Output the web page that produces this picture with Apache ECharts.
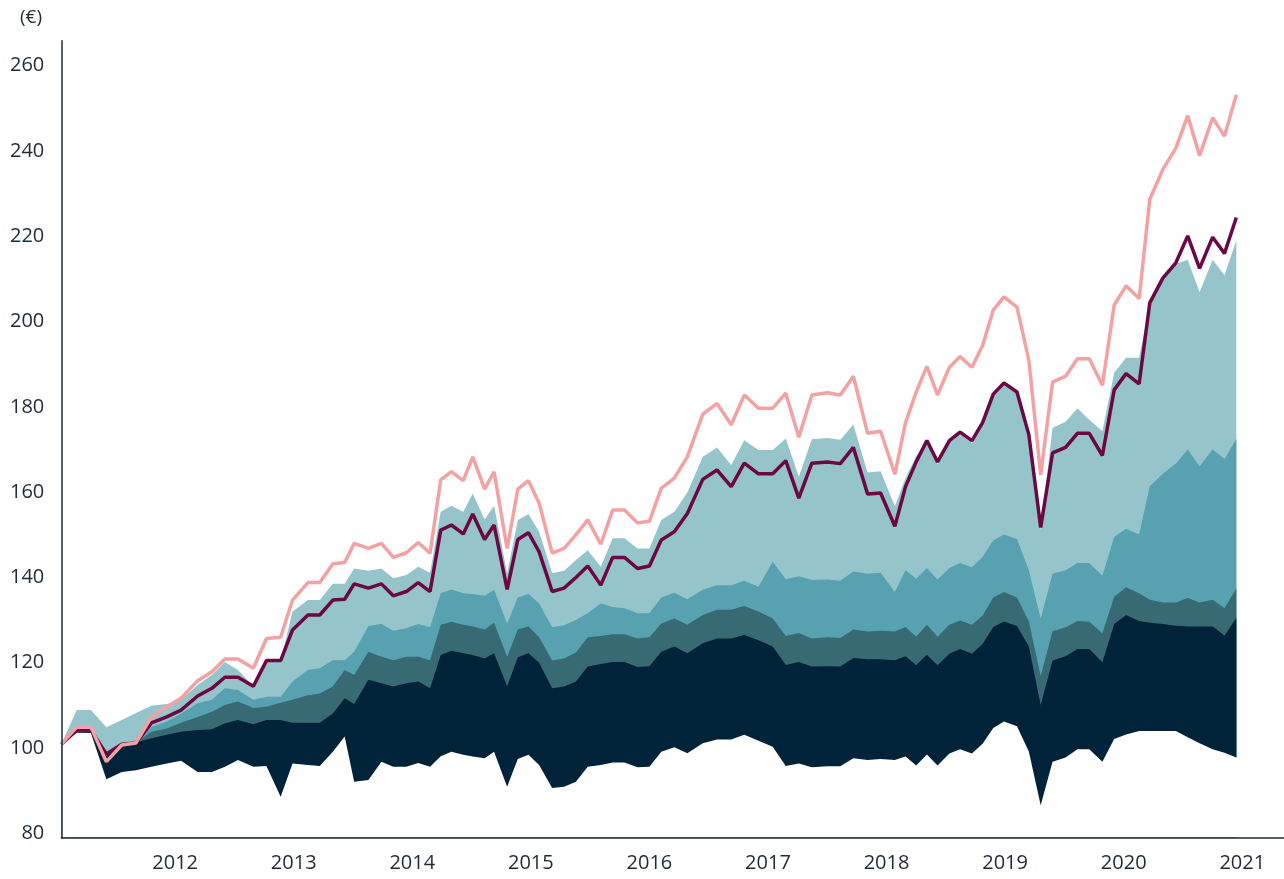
<!DOCTYPE html>
<html>
<head>
<meta charset="utf-8">
<script src="https://cdn.jsdelivr.net/npm/echarts@6/dist/echarts.min.js"></script>
<style>
  html, body { margin: 0; padding: 0; background: #fff; }
  #chart { width: 1284px; height: 879px; }
</style>
</head>
<body>
<div id="chart"></div>
<script>
// dates as decimal years
const dates = [
  2011.04, 2011.17, 2011.29, 2011.42, 2011.55, 2011.67, 2011.80, 2011.93, 2012.05, 2012.19,
  2012.31, 2012.42, 2012.53, 2012.66, 2012.77, 2012.89, 2012.99, 2013.12, 2013.22, 2013.33,
  2013.43, 2013.51, 2013.63, 2013.74, 2013.84, 2013.95, 2014.05, 2014.15, 2014.24, 2014.33,
  2014.43, 2014.51, 2014.61, 2014.69, 2014.80, 2014.89, 2014.98, 2015.07, 2015.18, 2015.28,
  2015.38, 2015.48, 2015.59, 2015.69, 2015.79, 2015.90, 2016.00, 2016.10, 2016.21, 2016.32,
  2016.45, 2016.57, 2016.69, 2016.80, 2016.92, 2017.04, 2017.15, 2017.26, 2017.37, 2017.50,
  2017.61, 2017.72, 2017.84, 2017.95, 2018.07, 2018.16, 2018.25, 2018.34, 2018.43, 2018.53,
  2018.62, 2018.72, 2018.81, 2018.90, 2018.99, 2019.10, 2019.20, 2019.30, 2019.40, 2019.51,
  2019.61, 2019.71, 2019.82, 2019.92, 2020.02, 2020.13, 2020.22, 2020.33, 2020.44, 2020.54,
  2020.64, 2020.75, 2020.85, 2020.95
];

// pink line
const upperLine = [
  100.9, 104.9, 104.9, 96.8, 100.7, 101.2, 107.3, 109.7, 111.7, 115.8,
  117.9, 120.9, 120.9, 118.7, 125.7, 126.0, 134.7, 138.8, 138.8, 143.2,
  143.5, 148.0, 146.8, 148.0, 144.7, 145.8, 148.2, 145.7, 162.9, 164.8,
  162.7, 168.3, 160.7, 164.8, 146.8, 160.7, 162.7, 157.4, 145.7, 146.8,
  150.0, 153.5, 147.8, 155.8, 155.8, 152.8, 153.2, 160.9, 163.3, 168.3,
  178.3, 180.8, 175.8, 182.8, 179.7, 179.7, 183.2, 172.9, 182.8, 183.3,
  182.8, 187.2, 173.8, 174.3, 164.2, 176.3, 183.5, 189.5, 182.8, 189.3,
  191.8, 189.3, 194.4, 202.7, 205.8, 203.4, 190.9, 164.1, 185.8, 187.2,
  191.3, 191.3, 185.1, 203.9, 208.4, 205.4, 228.7, 235.7, 240.7, 248.3,
  238.9, 247.8, 243.5, 253.2
];

// dark purple line
const midLine = [
  100.9, 104.2, 104.2, 98.6, 100.9, 101.2, 105.9, 107.3, 108.9, 112.2,
  114.0, 116.6, 116.6, 114.5, 120.5, 120.5, 127.7, 131.2, 131.2, 134.7,
  134.9, 138.5, 137.5, 138.5, 135.7, 136.7, 138.8, 136.7, 151.1, 152.3,
  150.2, 154.9, 148.9, 152.3, 137.2, 148.9, 150.5, 146.0, 136.7, 137.5,
  140.0, 142.7, 138.2, 144.7, 144.7, 142.1, 142.7, 148.8, 150.7, 155.0,
  163.0, 165.2, 161.3, 166.8, 164.3, 164.3, 167.4, 158.6, 166.8, 167.1,
  166.7, 170.5, 159.6, 159.8, 152.0, 161.3, 167.1, 172.1, 167.1, 172.1,
  174.1, 172.1, 176.3, 183.0, 185.6, 183.5, 173.5, 151.7, 169.2, 170.5,
  173.8, 173.8, 168.6, 184.0, 187.8, 185.4, 204.4, 210.2, 213.8, 220.1,
  212.5, 219.8, 216.0, 224.4
];

// band tops, from highest to lowest
const lightTealTop = [
  100.9, 108.9, 108.9, 104.9, 106.6, 108.2, 109.9, 110.3, 111.3, 114.8,
  117.1, 120.2, 118.3, 114.5, 120.4, 120.4, 132.0, 134.7, 134.7, 138.5,
  138.5, 142.1, 141.6, 142.1, 139.8, 140.6, 142.5, 141.1, 155.4, 156.8,
  155.4, 159.7, 153.6, 156.8, 141.0, 153.5, 154.9, 150.7, 141.0, 141.6,
  144.1, 146.4, 142.5, 149.2, 149.2, 146.8, 146.8, 153.5, 155.4, 159.9,
  168.3, 170.5, 166.4, 172.2, 169.9, 169.9, 172.6, 163.6, 172.4, 172.7,
  172.3, 175.9, 164.6, 164.9, 156.7, 163.3, 168.5, 171.6, 166.6, 171.6,
  173.6, 171.6, 175.8, 182.5, 185.1, 183.0, 173.0, 151.2, 175.1, 176.5,
  179.7, 177.0, 174.3, 188.0, 191.5, 191.5, 204.0, 210.0, 213.5, 214.5,
  206.9, 214.5, 210.9, 219.0
];

const tealTop = [
  100.9, 104.0, 104.0, 98.4, 100.9, 101.4, 105.0, 106.2, 108.1, 110.5,
  111.3, 114.0, 113.6, 111.3, 112.0, 112.0, 115.6, 118.3, 118.7, 120.6,
  120.6, 122.6, 128.6, 129.1, 127.5, 128.1, 129.1, 128.3, 136.3, 137.2,
  136.3, 136.1, 135.7, 137.1, 129.2, 135.3, 136.1, 133.9, 128.3, 128.8,
  130.0, 131.6, 133.9, 133.1, 132.8, 131.6, 131.6, 135.3, 136.4, 134.9,
  137.1, 138.2, 138.2, 139.2, 137.8, 143.7, 139.6, 140.3, 139.4, 139.5,
  139.2, 141.4, 140.9, 141.1, 136.6, 141.7, 139.7, 142.2, 139.5, 142.2,
  143.4, 142.4, 144.8, 148.7, 150.1, 149.0, 141.7, 130.4, 140.9, 141.7,
  143.4, 143.4, 140.4, 149.5, 151.4, 150.1, 161.4, 164.3, 166.7, 170.0,
  166.0, 170.0, 167.8, 172.5
];

const darkTealTop = [
  100.9, 103.9, 103.9, 98.2, 100.8, 101.3, 103.8, 104.6, 105.9, 107.3,
  108.5, 110.1, 110.9, 109.4, 109.7, 110.6, 111.3, 112.4, 112.8, 114.4,
  118.3, 117.1, 122.6, 121.4, 120.6, 121.4, 121.4, 120.6, 128.9, 129.6,
  128.9, 128.5, 127.8, 129.4, 121.4, 127.8, 128.5, 126.0, 120.5, 121.0,
  122.4, 126.0, 126.3, 126.7, 126.7, 125.7, 126.0, 129.2, 130.4, 128.9,
  131.2, 132.4, 132.4, 133.3, 132.0, 130.4, 126.3, 127.0, 125.7, 126.0,
  125.8, 127.8, 127.3, 127.5, 127.3, 128.4, 126.1, 128.9, 126.1, 128.9,
  129.9, 128.9, 131.1, 135.3, 136.6, 135.3, 129.7, 116.9, 127.4, 128.3,
  129.8, 129.6, 126.9, 135.5, 137.7, 136.3, 134.8, 134.1, 134.1, 135.2,
  134.1, 134.8, 132.8, 137.4
];

const navyTop = [
  100.9, 103.8, 103.8, 98.1, 100.7, 101.3, 102.3, 103.1, 103.8, 104.2,
  104.4, 105.8, 106.6, 105.6, 106.6, 106.6, 105.9, 105.9, 105.9, 108.1,
  111.7, 110.3, 116.0, 115.2, 114.4, 115.2, 115.6, 114.0, 121.8, 122.8,
  122.2, 121.8, 121.0, 122.2, 114.5, 121.3, 122.2, 120.0, 114.0, 114.4,
  115.6, 119.1, 119.7, 120.2, 120.2, 119.0, 119.2, 122.6, 123.8, 122.2,
  124.6, 125.7, 125.7, 126.5, 125.3, 123.8, 119.5, 120.2, 119.1, 119.2,
  119.1, 121.1, 120.8, 120.8, 120.6, 121.5, 119.4, 121.9, 119.4, 122.1,
  123.2, 122.1, 124.4, 128.4, 129.7, 128.6, 123.8, 110.1, 120.5, 121.5,
  123.2, 123.2, 120.1, 129.1, 131.2, 129.8, 129.4, 129.1, 128.7, 128.5,
  128.5, 128.5, 126.4, 130.5
];

const lowerBound = [
  100.9, 103.6, 103.5, 92.7, 94.4, 94.8, 95.6, 96.4, 97.0, 94.4,
  94.4, 95.6, 97.2, 95.6, 95.8, 88.6, 96.4, 96.0, 95.8, 99.1,
  102.7, 92.1, 92.5, 96.8, 95.6, 95.6, 96.5, 95.6, 98.1, 99.1,
  98.4, 98.0, 97.6, 99.1, 90.9, 97.4, 98.4, 96.0, 90.6, 90.9,
  92.1, 95.6, 96.0, 96.6, 96.6, 95.5, 95.6, 99.1, 100.2, 98.8,
  101.1, 102.0, 102.0, 103.1, 101.7, 100.3, 95.8, 96.4, 95.5, 95.7,
  95.7, 97.6, 97.2, 97.4, 97.2, 98.0, 95.9, 98.5, 95.9, 98.7,
  99.7, 98.7, 101.0, 104.7, 106.2, 105.1, 99.2, 86.6, 96.8, 97.8,
  99.7, 99.7, 96.8, 102.1, 103.2, 104.0, 104.0, 104.0, 104.0, 102.5,
  101.1, 99.7, 98.9, 97.8
];

const yearTicks = [2012, 2013, 2014, 2015, 2016, 2017, 2018, 2019, 2020, 2021];
const valueTicks = [80, 100, 120, 140, 160, 180, 200, 220, 240, 260];

const textColor = '#1d2a38';
const fontFamily = '"Open Sans", "Noto Sans", sans-serif';

// pair dates with values
const pts = arr => arr.map((v, i) => [dates[i], v]);

// the white mask under the lower bound runs a little past the last date,
// so no sliver of the bands shows at their right edge
const last = dates.length - 1;
const maskPts = pts(lowerBound).concat([[dates[last] + 0.05, lowerBound[last]]]);

// each band is filled down to the axis; later ones paint over earlier ones
const band = (name, data, color) => ({
  name: name,
  type: 'line',
  data: data,
  symbol: 'none',
  silent: true,
  lineStyle: { width: 0 },
  areaStyle: { color: color, opacity: 1, origin: 'start' },
  z: 2
});

const chart = echarts.init(document.getElementById('chart'));

chart.setOption({
  animation: false,
  backgroundColor: '#ffffff',
  grid: { left: 61.3, right: 0, top: 40.7, bottom: 41.3, containLabel: false },
  graphic: [{
    type: 'text',
    left: 20,
    top: 8,
    style: { text: '(€)', fill: textColor, font: '19px ' + fontFamily }
  }],
  xAxis: {
    type: 'value',
    min: 2011.04,
    max: 2021.352,
    z: 10,
    splitLine: { show: false },
    axisTick: { show: false },
    axisLine: { lineStyle: { color: '#1b2a38', width: 1.5 } },
    axisLabel: {
      customValues: yearTicks,
      color: textColor,
      fontFamily: fontFamily,
      fontSize: 20,
      margin: 16,
      formatter: v => String(Math.round(v))
    }
  },
  yAxis: {
    type: 'value',
    min: 78.97,
    max: 265.88,
    z: 10,
    splitLine: { show: false },
    axisTick: { show: false },
    axisLine: { show: true, lineStyle: { color: '#1b2a38', width: 1.5 } },
    axisLabel: {
      customValues: valueTicks,
      color: textColor,
      fontFamily: fontFamily,
      fontSize: 20,
      margin: 17
    }
  },
  series: [
    band('lightTeal', pts(lightTealTop), '#95c5cb'),
    band('teal', pts(tealTop), '#57a1b0'),
    band('darkTeal', pts(darkTealTop), '#376a73'),
    band('navy', pts(navyTop), '#012339'),
    band('below', maskPts, '#ffffff'),
    {
      name: 'mid',
      type: 'line',
      data: pts(midLine),
      symbol: 'none',
      lineStyle: { color: '#6b0743', width: 3.5 },
      z: 4
    },
    {
      name: 'upper',
      type: 'line',
      data: pts(upperLine),
      symbol: 'none',
      lineStyle: { color: '#f3a1a3', width: 3.5 },
      z: 5
    }
  ]
});
</script>
</body>
</html>
